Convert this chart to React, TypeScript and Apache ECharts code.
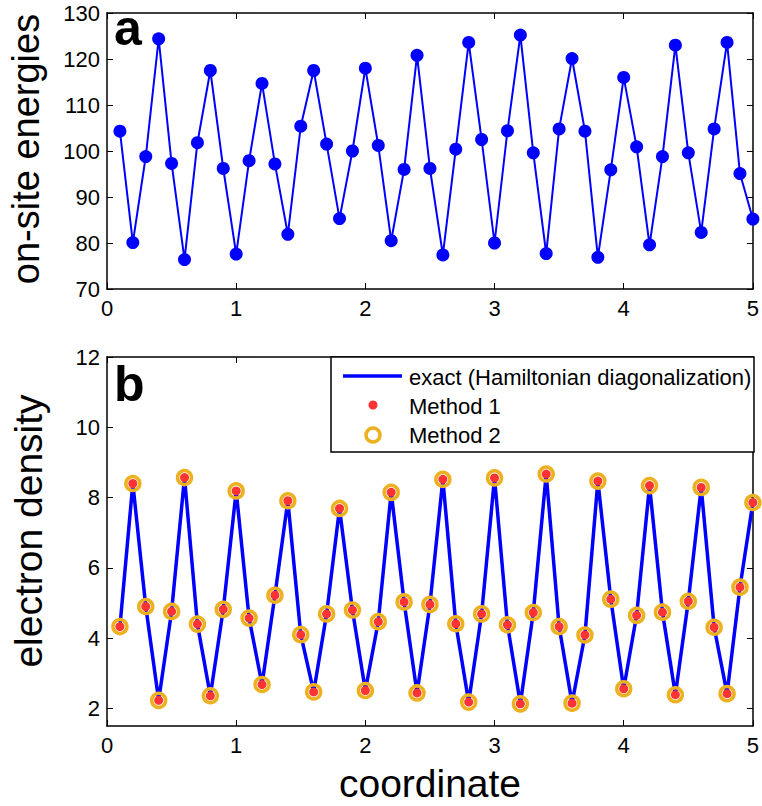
import React, { useEffect, useRef } from "react";
import * as echarts from "echarts";

const coordinate = [
  0.1, 0.2, 0.3, 0.4, 0.5, 0.6, 0.7, 0.8, 0.9, 1.0,
  1.1, 1.2, 1.3, 1.4, 1.5, 1.6, 1.7, 1.8, 1.9, 2.0,
  2.1, 2.2, 2.3, 2.4, 2.5, 2.6, 2.7, 2.8, 2.9, 3.0,
  3.1, 3.2, 3.3, 3.4, 3.5, 3.6, 3.7, 3.8, 3.9, 4.0,
  4.1, 4.2, 4.3, 4.4, 4.5, 4.6, 4.7, 4.8, 4.9, 5.0,
];

const onSiteEnergies = [
  104.3, 80.1, 98.8, 124.4, 97.3, 76.4, 101.8, 117.5, 96.2, 77.6,
  97.9, 114.7, 97.2, 81.9, 105.4, 117.5, 101.5, 85.3, 100.0, 118.0,
  101.2, 80.5, 96.0, 120.8, 96.2, 77.4, 100.4, 123.6, 102.5, 80.0,
  104.4, 125.2, 99.6, 77.7, 104.8, 120.1, 104.3, 76.9, 95.9, 116.0,
  100.9, 79.6, 98.8, 123.0, 99.6, 82.3, 104.8, 123.6, 95.1, 85.2,
];

const exactDensity = [
  4.33, 8.40, 4.90, 2.23, 4.76, 8.57, 4.40, 2.36, 4.82, 8.19,
  4.57, 2.68, 5.22, 7.91, 4.10, 2.47, 4.69, 7.69, 4.80, 2.51,
  4.47, 8.15, 5.03, 2.44, 4.96, 8.52, 4.41, 2.18, 4.69, 8.56,
  4.38, 2.13, 4.73, 8.67, 4.33, 2.15, 4.09, 8.47, 5.11, 2.56,
  4.65, 8.34, 4.74, 2.39, 5.05, 8.29, 4.31, 2.42, 5.45, 7.86,
];

const method1Density = [
  4.33, 8.40, 4.90, 2.23, 4.76, 8.57, 4.40, 2.36, 4.82, 8.19,
  4.57, 2.68, 5.22, 7.91, 4.10, 2.47, 4.69, 7.69, 4.80, 2.51,
  4.47, 8.15, 5.03, 2.44, 4.96, 8.52, 4.41, 2.18, 4.69, 8.56,
  4.38, 2.13, 4.73, 8.67, 4.33, 2.15, 4.09, 8.47, 5.11, 2.56,
  4.65, 8.34, 4.74, 2.39, 5.05, 8.29, 4.31, 2.42, 5.45, 7.86,
];

const method2Density = [
  4.33, 8.40, 4.90, 2.23, 4.76, 8.57, 4.40, 2.36, 4.82, 8.19,
  4.57, 2.68, 5.22, 7.91, 4.10, 2.47, 4.69, 7.69, 4.80, 2.51,
  4.47, 8.15, 5.03, 2.44, 4.96, 8.52, 4.41, 2.18, 4.69, 8.56,
  4.38, 2.13, 4.73, 8.67, 4.33, 2.15, 4.09, 8.47, 5.11, 2.56,
  4.65, 8.34, 4.74, 2.39, 5.05, 8.29, 4.31, 2.42, 5.45, 7.86,
];

const densityTicks = [2, 4, 6, 8, 10, 12];
const legendLabels = ["exact (Hamiltonian diagonalization)", "Method 1", "Method 2"];
const panelLetters = ["a", "b"];
const axisTitles = { energy: "on-site energies", density: "electron density", coord: "coordinate" };

const FONT = "'Liberation Sans', Arial, Helvetica, sans-serif";
const BLUE = "#0000ff";
const RED = "#ff3333";
const GOLD = "#edb120";

export default function App() {
  const ref = useRef<HTMLDivElement>(null);

  useEffect(() => {
    document.body.style.margin = "0";
    if (!ref.current) return;
    const chart = echarts.init(ref.current, undefined, { renderer: "svg" });

    const axisLine = { show: true, onZero: false, lineStyle: { color: "#000", width: 1.5 } };
    const axisTick = (extra: any = {}) => ({
      show: true,
      inside: true,
      length: 6,
      lineStyle: { color: "#000", width: 1 },
      ...extra,
    });
    const label = { color: "#000", fontFamily: FONT, fontSize: 22 };

    const xAx = (gridIndex: number, position: string, showLabel: boolean) => ({
      type: "value",
      gridIndex,
      position,
      min: 0,
      max: 5,
      interval: 1,
      axisLine,
      axisTick: axisTick(),
      axisLabel: { ...label, show: showLabel, margin: 8 },
      splitLine: { show: false },
    });

    const energyY = (position: string, showLabel: boolean) => ({
      type: "value",
      gridIndex: 0,
      position,
      min: 70,
      max: 130,
      interval: 10,
      axisLine,
      axisTick: axisTick(),
      axisLabel: { ...label, show: showLabel, margin: 7 },
      splitLine: { show: false },
    });

    const densityY = (position: string, showLabel: boolean) => ({
      type: "value",
      gridIndex: 1,
      position,
      min: 1.5,
      max: 12,
      axisLine,
      axisTick: axisTick({ customValues: densityTicks }),
      axisLabel: { ...label, show: showLabel, margin: 7, customValues: densityTicks },
      splitLine: { show: false },
    });

    const energyData = coordinate.map((x, i) => [x, onSiteEnergies[i]]);
    const exactData = coordinate.map((x, i) => [x, exactDensity[i]]);
    const m1Data = coordinate.map((x, i) => [x, method1Density[i]]);
    const m2Data = coordinate.map((x, i) => [x, method2Density[i]]);

    const legX = 331;
    const legY = 357;
    const legW = 423;
    const legH = 95;

    chart.setOption({
      animation: false,
      backgroundColor: "#fff",
      grid: [
        { left: 107, right: 8, top: 13, height: 276 },
        { left: 107, right: 8, top: 357, height: 369 },
      ],
      xAxis: [xAx(0, "bottom", true), xAx(0, "top", false), xAx(1, "bottom", true), xAx(1, "top", false)],
      yAxis: [energyY("left", true), energyY("right", false), densityY("left", true), densityY("right", false)],
      series: [
        {
          type: "line",
          xAxisIndex: 0,
          yAxisIndex: 0,
          data: energyData,
          lineStyle: { color: BLUE, width: 2 },
          itemStyle: { color: BLUE, opacity: 1 },
          symbol: "circle",
          symbolSize: 13,
          showAllSymbol: true,
          z: 3,
        },
        {
          type: "line",
          name: legendLabels[0],
          xAxisIndex: 2,
          yAxisIndex: 2,
          data: exactData,
          lineStyle: { color: BLUE, width: 3.5 },
          symbol: "none",
          z: 2,
        },
        {
          type: "scatter",
          name: legendLabels[1],
          xAxisIndex: 2,
          yAxisIndex: 2,
          data: m1Data,
          symbol: "circle",
          symbolSize: 9,
          itemStyle: { color: RED, opacity: 1 },
          z: 3,
        },
        {
          type: "scatter",
          name: legendLabels[2],
          xAxisIndex: 2,
          yAxisIndex: 2,
          data: m2Data,
          symbol: "circle",
          symbolSize: 14,
          itemStyle: { color: "transparent", borderColor: GOLD, borderWidth: 3.5, opacity: 1 },
          z: 4,
        },
      ],
      graphic: [
        {
          type: "text",
          x: 26,
          y: 149,
          rotation: Math.PI / 2,
          style: { text: axisTitles.energy, font: `38px ${FONT}`, fill: "#000", textAlign: "center", textVerticalAlign: "middle" },
        },
        {
          type: "text",
          x: 28,
          y: 531,
          rotation: Math.PI / 2,
          style: { text: axisTitles.density, font: `39px ${FONT}`, fill: "#000", textAlign: "center", textVerticalAlign: "middle" },
        },
        {
          type: "text",
          x: 430,
          y: 783,
          style: { text: axisTitles.coord, font: `39px ${FONT}`, fill: "#000", textAlign: "center", textVerticalAlign: "middle" },
        },
        {
          type: "text",
          x: 114,
          y: 53,
          style: { text: panelLetters[0], font: `bold 50px ${FONT}`, fill: "#000", textAlign: "left", textVerticalAlign: "bottom" },
          z: 10,
        },
        {
          type: "text",
          x: 114,
          y: 409,
          style: { text: panelLetters[1], font: `bold 50px ${FONT}`, fill: "#000", textAlign: "left", textVerticalAlign: "bottom" },
          z: 10,
        },
        {
          type: "rect",
          shape: { x: legX, y: legY, width: legW, height: legH },
          style: { fill: "#fff", stroke: "#000", lineWidth: 1.5 },
          z: 10,
        },
        {
          type: "line",
          shape: { x1: 343, y1: 376, x2: 402, y2: 376 },
          style: { stroke: BLUE, lineWidth: 3.5 },
          z: 11,
        },
        {
          type: "circle",
          shape: { cx: 373, cy: 405, r: 4.5 },
          style: { fill: RED },
          z: 11,
        },
        {
          type: "circle",
          shape: { cx: 373, cy: 435, r: 7 },
          style: { fill: "none", stroke: GOLD, lineWidth: 3.5 },
          z: 11,
        },
        {
          type: "text",
          x: 409,
          y: 377,
          style: { text: legendLabels[0], font: `22px ${FONT}`, fill: "#000", textAlign: "left", textVerticalAlign: "middle" },
          z: 11,
        },
        {
          type: "text",
          x: 409,
          y: 406,
          style: { text: legendLabels[1], font: `22px ${FONT}`, fill: "#000", textAlign: "left", textVerticalAlign: "middle" },
          z: 11,
        },
        {
          type: "text",
          x: 409,
          y: 435,
          style: { text: legendLabels[2], font: `22px ${FONT}`, fill: "#000", textAlign: "left", textVerticalAlign: "middle" },
          z: 11,
        },
      ],
    });

    return () => chart.dispose();
  }, []);

  return <div ref={ref} style={{ width: 762, height: 806 }} />;
}
